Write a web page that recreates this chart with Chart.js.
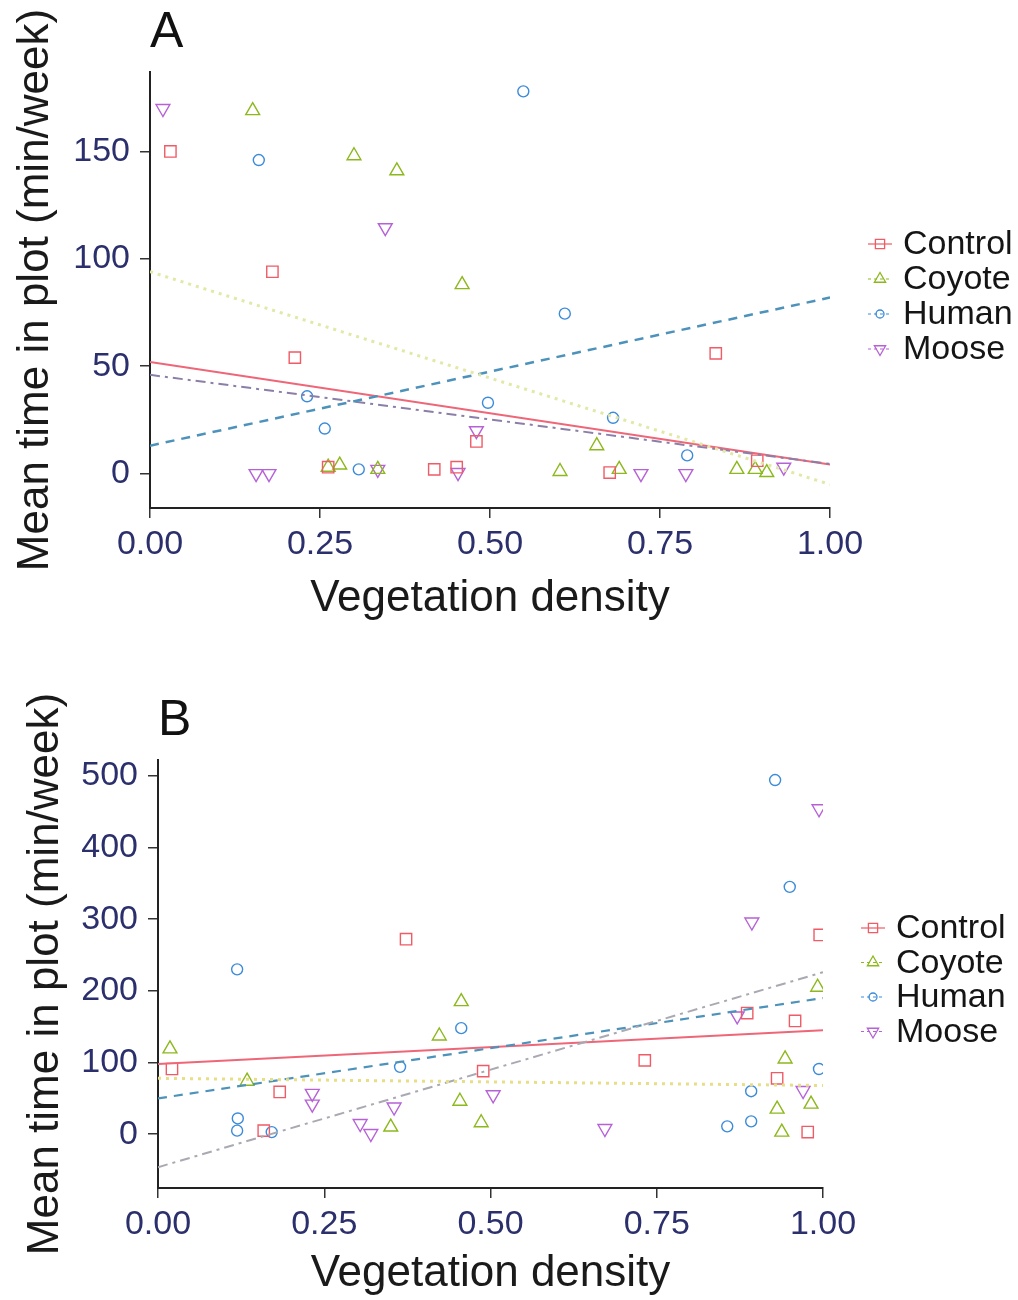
<!DOCTYPE html>
<html>
<head>
<meta charset="utf-8">
<script src="https://cdn.jsdelivr.net/npm/chart.js@4.4.1/dist/chart.umd.min.js"></script>
<style>
  body { margin: 0; background: #fff; }
  .panel { position: absolute; left: 0; }
  #wrapA { top: 0; }
  #wrapB { top: 650px; }
</style>
</head>
<body>
<div class="panel" id="wrapA"><canvas id="chartA" width="1018" height="640"></canvas></div>
<div class="panel" id="wrapB"><canvas id="chartB" width="1018" height="650"></canvas></div>
<script>
// ---- data ----
var groups = ['Control', 'Coyote', 'Human', 'Moose'];
var xTicks = [0, 0.25, 0.5, 0.75, 1];
var yTicksA = [0, 50, 100, 150];
var yTicksB = [0, 100, 200, 300, 400, 500];

// Panel A
var controlAx = [0.03, 0.18, 0.213, 0.262, 0.418, 0.451, 0.48, 0.676, 0.832, 0.893];
var controlAy = [150, 94, 54, 3, 2, 3, 15, 0.5, 56, 6];
var coyoteAx = [0.151, 0.30, 0.363, 0.459, 0.262, 0.279, 0.335, 0.603, 0.657, 0.69, 0.863, 0.89, 0.907];
var coyoteAy = [169, 148, 141, 88, 3, 4, 2, 1, 13, 2, 2, 2, 0.5];
var humanAx = [0.549, 0.16, 0.61, 0.231, 0.257, 0.307, 0.497, 0.681, 0.79];
var humanAy = [178, 146, 74.5, 36, 21, 2, 33, 26, 8.5];
var mooseAx = [0.019, 0.346, 0.156, 0.175, 0.335, 0.453, 0.48, 0.722, 0.788, 0.932];
var mooseAy = [170, 114.5, 0, 0, 2, 0.5, 20, 0, 0, 3];
// fitted lines, value at x = 0 and x = 1
var fitAx = [0, 1];
var controlFitA = [52, 4.2];
var coyoteFitA = [94, -5];
var humanFitA = [13, 82];
var mooseFitA = [46, 4.5];

// Panel B
var controlBx = [0.021, 0.183, 0.373, 0.159, 0.489, 0.732, 0.886, 0.931, 0.958, 0.977, 0.995];
var controlBy = [91, 59, 272, 5, 88, 103, 169, 78, 158, 3, 278];
var coyoteBx = [0.018, 0.134, 0.35, 0.423, 0.454, 0.456, 0.486, 0.931, 0.938, 0.943, 0.982, 0.992];
var coyoteBy = [119, 74, 10, 137, 46, 185, 16, 35, 3, 105, 42, 205];
var humanBx = [0.119, 0.12, 0.119, 0.171, 0.364, 0.456, 0.856, 0.892, 0.892, 0.928, 0.95, 0.994];
var humanBy = [230, 22, 5, 3, 94, 148, 11, 18, 60, 494, 345, 91];
var mooseBx = [0.232, 0.232, 0.304, 0.32, 0.355, 0.504, 0.672, 0.871, 0.893, 0.97, 0.994];
var mooseBy = [57, 42, 15, 1, 38, 55, 8, 165, 296, 61, 454];
var fitBx = [0, 1];
var controlFitB = [98, 145];
var coyoteFitB = [78, 68];
var humanFitB = [50, 190];
var mooseFitB = [-46, 226];

// ---- styling ----
var FONT = "'Liberation Sans', Arial, sans-serif";
var TICK_COLOR = '#2b2f6c';
var markerColors = ['#ef5b66', '#8cb81c', '#3b8bdb', '#b662d6'];
var markerStyles = ['rect', 'triangle', 'circle', 'triangle'];
var markerRadius = [8, 8, 5.5, 8];
var markerRotation = [0, 0, 0, 180];
var lineDash = [[], [3, 5], [9, 7], [10, 5, 3, 5]];

var zip = function(xs, ys) {
  return xs.map(function(x, i) { return { x: x, y: ys[i] }; });
};

var pointSet = function(i, xs, ys) {
  return {
    type: 'scatter',
    label: groups[i],
    data: zip(xs, ys),
    showLine: false,
    pointStyle: markerStyles[i],
    pointRadius: markerRadius[i],
    pointRotation: markerRotation[i],
    pointBorderWidth: 1.4,
    pointBorderColor: markerColors[i],
    pointBackgroundColor: 'rgba(0,0,0,0)',
    pointHoverRadius: markerRadius[i]
  };
};

var fitSet = function(i, xs, ys, color, width) {
  return {
    type: 'line',
    label: groups[i] + ' fit',
    data: zip(xs, ys),
    borderColor: color,
    borderWidth: width,
    borderDash: lineDash[i],
    pointRadius: 0,
    fill: false
  };
};

// legend drawn by hand: marker with a short stroke of the line style through it
var legendPlugin = {
  id: 'sketchLegend',
  afterDraw: function(chart, args, opts) {
    var ctx = chart.ctx;
    ctx.save();
    groups.forEach(function(name, i) {
      var y = opts.top + i * opts.step;
      ctx.strokeStyle = markerColors[i];
      ctx.lineWidth = 1.2;
      ctx.setLineDash(i === 0 ? [] : [3, 3]);
      ctx.beginPath();
      ctx.moveTo(opts.x - 12, y);
      ctx.lineTo(opts.x + 12, y);
      ctx.stroke();
      ctx.setLineDash([]);
      ctx.fillStyle = 'rgba(0,0,0,0)';
      ctx.lineWidth = 1.3;
      Chart.helpers.drawPoint(ctx, {
        pointStyle: markerStyles[i],
        radius: markerRadius[i] - 1.5,
        rotation: markerRotation[i],
        borderWidth: 1.3
      }, opts.x, y);
      ctx.fillStyle = '#151515';
      ctx.font = '34px ' + FONT;
      ctx.textBaseline = 'middle';
      ctx.textAlign = 'left';
      ctx.fillText(name, opts.x + 23, y + 1);
    });
    // panel letter
    ctx.fillStyle = '#111';
    ctx.font = '50px ' + FONT;
    ctx.textBaseline = 'alphabetic';
    ctx.fillText(opts.letter, opts.letterX, opts.letterY);
    ctx.restore();
  }
};

var makeChart = function(id, datasets, cfg) {
  var canvas = document.getElementById(id);
  return new Chart(canvas.getContext('2d'), {
    data: { datasets: datasets },
    plugins: [legendPlugin],
    options: {
      responsive: false,
      animation: false,
      events: [],
      layout: { padding: { top: cfg.top, right: canvas.width - cfg.right, left: 0, bottom: 0 } },
      plugins: {
        legend: { display: false },
        tooltip: { enabled: false },
        sketchLegend: cfg.legend
      },
      scales: {
        x: {
          type: 'linear',
          min: 0,
          max: 1,
          afterBuildTicks: function(s) { s.ticks = xTicks.map(function(v) { return { value: v }; }); },
          afterFit: function(s) { s.height = canvas.height - cfg.bottom; },
          border: { display: true, color: '#222', width: 2 },
          grid: { display: true, drawOnChartArea: false, drawTicks: true, tickLength: 10, color: '#333', lineWidth: 1.5 },
          ticks: {
            padding: 6,
            color: TICK_COLOR,
            font: { family: FONT, size: 34 },
            maxRotation: 0,
            callback: function(v) { return v.toFixed(2); }
          },
          title: {
            display: true,
            text: 'Vegetation density',
            color: '#1a1a1a',
            font: { family: FONT, size: 44 },
            padding: { top: 0, bottom: cfg.xTitlePad }
          }
        },
        y: {
          type: 'linear',
          min: cfg.yMin,
          max: cfg.yMax,
          afterBuildTicks: function(s) { s.ticks = cfg.yTicks.map(function(v) { return { value: v }; }); },
          afterFit: function(s) { s.width = cfg.left; },
          border: { display: true, color: '#222', width: 2 },
          grid: { display: true, drawOnChartArea: false, drawTicks: true, tickLength: 10, color: '#333', lineWidth: 1.5 },
          ticks: {
            padding: 10,
            color: TICK_COLOR,
            font: { family: FONT, size: 34 }
          },
          title: {
            display: true,
            text: 'Mean time in plot (min/week)',
            color: '#1a1a1a',
            font: { family: FONT, size: 44 },
            padding: { top: cfg.yTitlePad, bottom: 0 }
          }
        }
      }
    }
  });
};

makeChart('chartA', [
  fitSet(1, fitAx, coyoteFitA, '#e2e8a6', 3),
  fitSet(2, fitAx, humanFitA, '#4d92ba', 2.5),
  fitSet(3, fitAx, mooseFitA, '#8b7fa8', 2),
  fitSet(0, fitAx, controlFitA, '#ee6677', 2),
  pointSet(0, controlAx, controlAy),
  pointSet(1, coyoteAx, coyoteAy),
  pointSet(2, humanAx, humanAy),
  pointSet(3, mooseAx, mooseAy)
], {
  top: 72, bottom: 508, left: 150, right: 830,
  yMin: -16, yMax: 187, yTicks: yTicksA,
  xTitlePad: 15, yTitlePad: 9,
  legend: { x: 880, top: 244, step: 35, letter: 'A', letterX: 150, letterY: 47 }
});

makeChart('chartB', [
  fitSet(1, fitBx, coyoteFitB, '#e6df86', 3),
  fitSet(3, fitBx, mooseFitB, '#a9a9b2', 2),
  fitSet(2, fitBx, humanFitB, '#4d92ba', 2.2),
  fitSet(0, fitBx, controlFitB, '#ee6677', 2),
  pointSet(0, controlBx, controlBy),
  pointSet(1, coyoteBx, coyoteBy),
  pointSet(2, humanBx, humanBy),
  pointSet(3, mooseBx, mooseBy)
], {
  top: 110, bottom: 538, left: 158, right: 823,
  yMin: -75, yMax: 522, yTicks: yTicksB,
  xTitlePad: 0, yTitlePad: 19,
  legend: { x: 873, top: 278, step: 34.5, letter: 'B', letterX: 158, letterY: 85 }
});
</script>
</body>
</html>
